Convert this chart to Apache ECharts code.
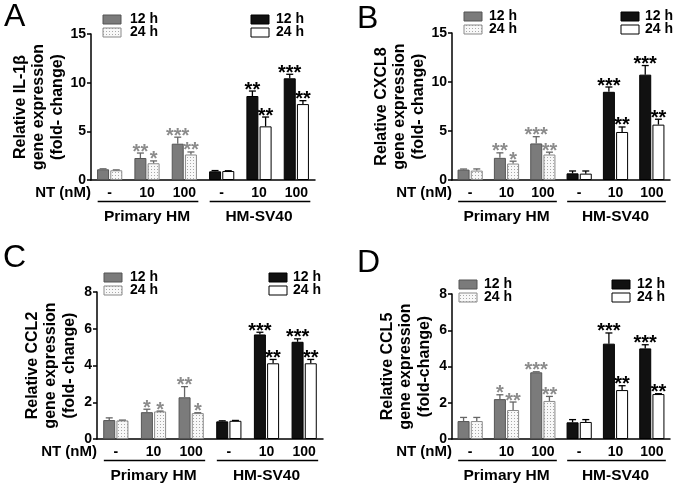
<!DOCTYPE html>
<html><head><meta charset="utf-8">
<script src="https://cdn.jsdelivr.net/npm/echarts@6/dist/echarts.min.js"></script>
<style>html,body{margin:0;padding:0;background:#fff}#c{width:677px;height:486px}</style>
</head><body><div id="c"></div>
<script>
// ---------- data ----------
const categories = ['-', '10', '100', '-', '10', '100'];
const groups = ['Primary HM', 'HM-SV40'];
const timeLabels = ['12 h', '24 h'];
const xTitle = 'NT (nM)';
const panelLetters = ['A', 'B', 'C', 'D'];
const yTitles = [
  'Relative IL-1β\ngene expression\n(fold- change)',
  'Relative CXCL8\ngene expression\n(fold- change)',
  'Relative CCL2\ngene expression\n(fold- change)',
  'Relative CCL5\ngene expression\n(fold-change)'
];
const yMax = [15, 15, 8, 8];
const yInterval = [5, 5, 2, 2];

// IL-1β (A)
const il1b_12h     = [1.10, 2.26, 3.73, 0.89, 8.63, 10.45];
const il1b_12h_err = [0.05, 0.51, 0.67, 0.08, 0.51, 0.41];
const il1b_24h     = [1.00, 1.72, 2.62, 0.92, 5.51, 7.80];
const il1b_24h_err = [0.04, 0.24, 0.26, 0.03, 0.96, 0.35];
const il1b_12h_sig = ['', '**', '***', '', '**', '***'];
const il1b_24h_sig = ['', '*', '**', '', '**', '**'];

// CXCL8 (B)
const cxcl8_12h     = [1.06, 2.26, 3.73, 0.68, 9.00, 10.75];
const cxcl8_12h_err = [0.06, 0.51, 0.69, 0.24, 0.49, 0.93];
const cxcl8_24h     = [0.96, 1.68, 2.60, 0.65, 4.90, 5.65];
const cxcl8_24h_err = [0.17, 0.24, 0.24, 0.27, 0.51, 0.55];
const cxcl8_12h_sig = ['', '**', '***', '', '***', '***'];
const cxcl8_24h_sig = ['', '*', '**', '', '**', '**'];

// CCL2 (C)
const ccl2_12h     = [1.03, 1.46, 2.27, 0.96, 5.69, 5.29];
const ccl2_12h_err = [0.12, 0.16, 0.58, 0.03, 0.12, 0.16];
const ccl2_24h     = [1.01, 1.50, 1.41, 0.99, 4.12, 4.12];
const ccl2_24h_err = [0.02, 0.02, 0.02, 0.02, 0.21, 0.21];
const ccl2_12h_sig = ['', '*', '**', '', '***', '***'];
const ccl2_24h_sig = ['', '*', '*', '', '**', '**'];

// CCL5 (D)
const ccl5_12h     = [0.99, 2.20, 3.68, 0.92, 5.26, 5.00];
const ccl5_12h_err = [0.20, 0.24, 0.03, 0.15, 0.59, 0.20];
const ccl5_24h     = [0.99, 1.60, 2.10, 0.94, 2.70, 2.48];
const ccl5_24h_err = [0.20, 0.44, 0.25, 0.13, 0.24, 0.02];
const ccl5_12h_sig = ['', '*', '***', '', '***', '***'];
const ccl5_24h_sig = ['', '**', '**', '', '**', '**'];

const panelData = [
  [il1b_12h, il1b_12h_err, il1b_12h_sig, il1b_24h, il1b_24h_err, il1b_24h_sig],
  [cxcl8_12h, cxcl8_12h_err, cxcl8_12h_sig, cxcl8_24h, cxcl8_24h_err, cxcl8_24h_sig],
  [ccl2_12h, ccl2_12h_err, ccl2_12h_sig, ccl2_24h, ccl2_24h_err, ccl2_24h_sig],
  [ccl5_12h, ccl5_12h_err, ccl5_12h_sig, ccl5_24h, ccl5_24h_err, ccl5_24h_sig]
];

// ---------- layout / style ----------
const FONT = '"Liberation Sans", Arial, Helvetica, sans-serif';
const layout = [
  { left: 91,  top: 34,  width: 224, height: 146, letter: [4, 1],    leg: { px: 103, py: 15,  tx: 130, sx: 251, stx: 276 } },
  { left: 452, top: 33,  width: 218, height: 147, letter: [357, 3],  leg: { px: 464, py: 12,  tx: 489, sx: 621, stx: 645 } },
  { left: 97,  top: 292, width: 226, height: 147, letter: [3, 242],  leg: { px: 104, py: 273, tx: 130, sx: 269, stx: 293 } },
  { left: 452, top: 294, width: 218, height: 145, letter: [357, 247], leg: { px: 459, py: 280, tx: 484, sx: 612, stx: 637 } }
];
const BAR_W = 12, BAR_OFF = 6.6;
const GRAY = '#7b7b7b', GRAY_BORDER = '#555';

function dotCanvas() {
  const c = document.createElement('canvas');
  c.width = 3; c.height = 3;
  const g = c.getContext('2d');
  g.fillStyle = '#f8f8f8'; g.fillRect(0, 0, 3, 3);
  g.fillStyle = '#a8a8a8'; g.fillRect(1, 1, 1, 1);
  return c;
}
const DOT = dotCanvas();
const dotFill = () => ({ image: DOT, repeat: 'repeat' });

function styleFor(i, isLate) {
  const prim = i < 3;
  if (prim) {
    return isLate ? { color: dotFill(), borderColor: '#8a8a8a', borderWidth: 1 }
                  : { color: GRAY, borderColor: GRAY_BORDER, borderWidth: 1 };
  }
  return isLate ? { color: '#ffffff', borderColor: '#000', borderWidth: 1 }
                : { color: '#111111', borderColor: '#000', borderWidth: 1 };
}

const grids = [], xAxes = [], yAxes = [], series = [], graphics = [];

layout.forEach((L, k) => {
  grids.push({ left: L.left, top: L.top, width: L.width, height: L.height, containLabel: false, outerBoundsMode: 'none' });
  xAxes.push({
    type: 'category', gridIndex: k, data: categories,
    axisLine: { lineStyle: { color: '#000', width: 1.5 } },
    axisTick: { show: false },
    axisLabel: { color: '#000', fontWeight: 'bold', fontSize: 14, fontFamily: FONT, margin: 6, interval: 0 }
  });
  xAxes.push({
    type: 'category', gridIndex: k, data: groups, position: 'bottom', offset: 26,
    axisLine: { show: false }, axisTick: { show: false }, splitLine: { show: false },
    axisLabel: { color: '#000', fontWeight: 'bold', fontSize: 15.5, fontFamily: FONT, margin: 3, interval: 0, hideOverlap: false }
  });
  yAxes.push({
    type: 'value', gridIndex: k, min: 0, max: yMax[k], interval: yInterval[k],
    axisLine: { show: true, lineStyle: { color: '#000', width: 1.5 } },
    axisTick: { show: true, length: 4, inside: false, lineStyle: { color: '#000', width: 1.5 } },
    splitLine: { show: false },
    axisLabel: { color: '#000', fontWeight: 'bold', fontSize: 14, fontFamily: FONT, margin: 5 },
    name: yTitles[k], nameLocation: 'middle', nameGap: 46, nameRotate: 90,
    nameTextStyle: { color: '#000', fontWeight: 'bold', fontSize: 16, fontFamily: FONT, lineHeight: 18.5, align: 'center', verticalAlign: 'middle' }
  });

  const [m12, e12, s12, m24, e24, s24] = panelData[k];
  [[m12, false], [m24, true]].forEach(([vals, late]) => {
    series.push({
      type: 'bar', xAxisIndex: 2 * k, yAxisIndex: k, barWidth: BAR_W, barGap: '10%',
      name: late ? timeLabels[1] : timeLabels[0], silent: true,
      data: vals.map((v, i) => ({ value: v, itemStyle: styleFor(i, late) }))
    });
  });
  [[m12, e12, s12, -1], [m24, e24, s24, 1]].forEach(([vals, errs, sigs, side]) => {
    series.push({
      type: 'custom', xAxisIndex: 2 * k, yAxisIndex: k, z: 5, silent: true, clip: false,
      data: vals.map((v, i) => [i, v, errs[i]]),
      renderItem: (params, api) => {
        const i = api.value(0), m = api.value(1), e = api.value(2);
        const b = api.coord([i, m]), t = api.coord([i, m + e]);
        const x = b[0] + side * BAR_OFF;
        const prim = i < 3;
        const col = prim ? '#666' : '#000';
        const ch = [
          { type: 'line', shape: { x1: x, y1: b[1], x2: x, y2: t[1] }, style: { stroke: col, lineWidth: 1.3 } },
          { type: 'line', shape: { x1: x - 3.5, y1: t[1], x2: x + 3.5, y2: t[1] }, style: { stroke: col, lineWidth: 1.3 } }
        ];
        const s = sigs[params.dataIndex];
        if (s) ch.push({ type: 'text', x: x, y: t[1] - 1, style: { text: s, fill: prim ? '#8c8c8c' : '#000', font: 'bold 20px ' + FONT, align: 'center', verticalAlign: 'middle' } });
        return { type: 'group', children: ch };
      }
    });
  });

  // panel letter
  graphics.push({ type: 'text', left: L.letter[0], top: L.letter[1], style: { text: panelLetters[k], font: '32px ' + FONT, fill: '#000' } });
  // x title
  graphics.push({ type: 'text', x: L.left, y: L.top + L.height + 13, style: { text: xTitle, font: 'bold 15px ' + FONT, fill: '#000', align: 'right', verticalAlign: 'middle' } });
  // legends
  const g = L.leg;
  const bw = 18, bh = 9;
  graphics.push({ type: 'rect', shape: { x: g.px, y: g.py, width: bw, height: bh }, style: { fill: GRAY, stroke: GRAY_BORDER, lineWidth: 1 } });
  graphics.push({ type: 'rect', shape: { x: g.px, y: g.py + 13, width: bw, height: bh }, style: { fill: dotFill(), stroke: '#8a8a8a', lineWidth: 1 } });
  graphics.push({ type: 'rect', shape: { x: g.sx, y: g.py, width: bw, height: bh }, style: { fill: '#111', stroke: '#000', lineWidth: 1 } });
  graphics.push({ type: 'rect', shape: { x: g.sx, y: g.py + 13, width: bw, height: bh }, style: { fill: '#fff', stroke: '#000', lineWidth: 1 } });
  [[g.tx, 0], [g.tx, 1], [g.stx, 0], [g.stx, 1]].forEach(([tx, r]) => {
    graphics.push({ type: 'text', x: tx, y: g.py + bh / 2 + 13 * r, style: { text: timeLabels[r], font: 'bold 14px ' + FONT, fill: '#000', verticalAlign: 'middle' } });
  });
});

const chart = echarts.init(document.getElementById('c'), null, { renderer: 'canvas' });
chart.setOption({
  animation: false,
  backgroundColor: '#fff',
  grid: grids, xAxis: xAxes, yAxis: yAxes, series: series,
  graphic: graphics
});

// group underlines computed from axis scale
const lines = [];
layout.forEach((L, k) => {
  [[0, 2], [3, 5]].forEach(([a, b]) => {
    const xa = chart.convertToPixel({ xAxisIndex: 2 * k }, a) - 12;
    const xb = chart.convertToPixel({ xAxisIndex: 2 * k }, b) + 14;
    const y = L.top + L.height + 21.5;
    lines.push({ type: 'line', shape: { x1: xa, y1: y, x2: xb, y2: y }, style: { stroke: '#000', lineWidth: 1.3 } });
  });
});
chart.setOption({ graphic: graphics.concat(lines) });
</script></body></html>
